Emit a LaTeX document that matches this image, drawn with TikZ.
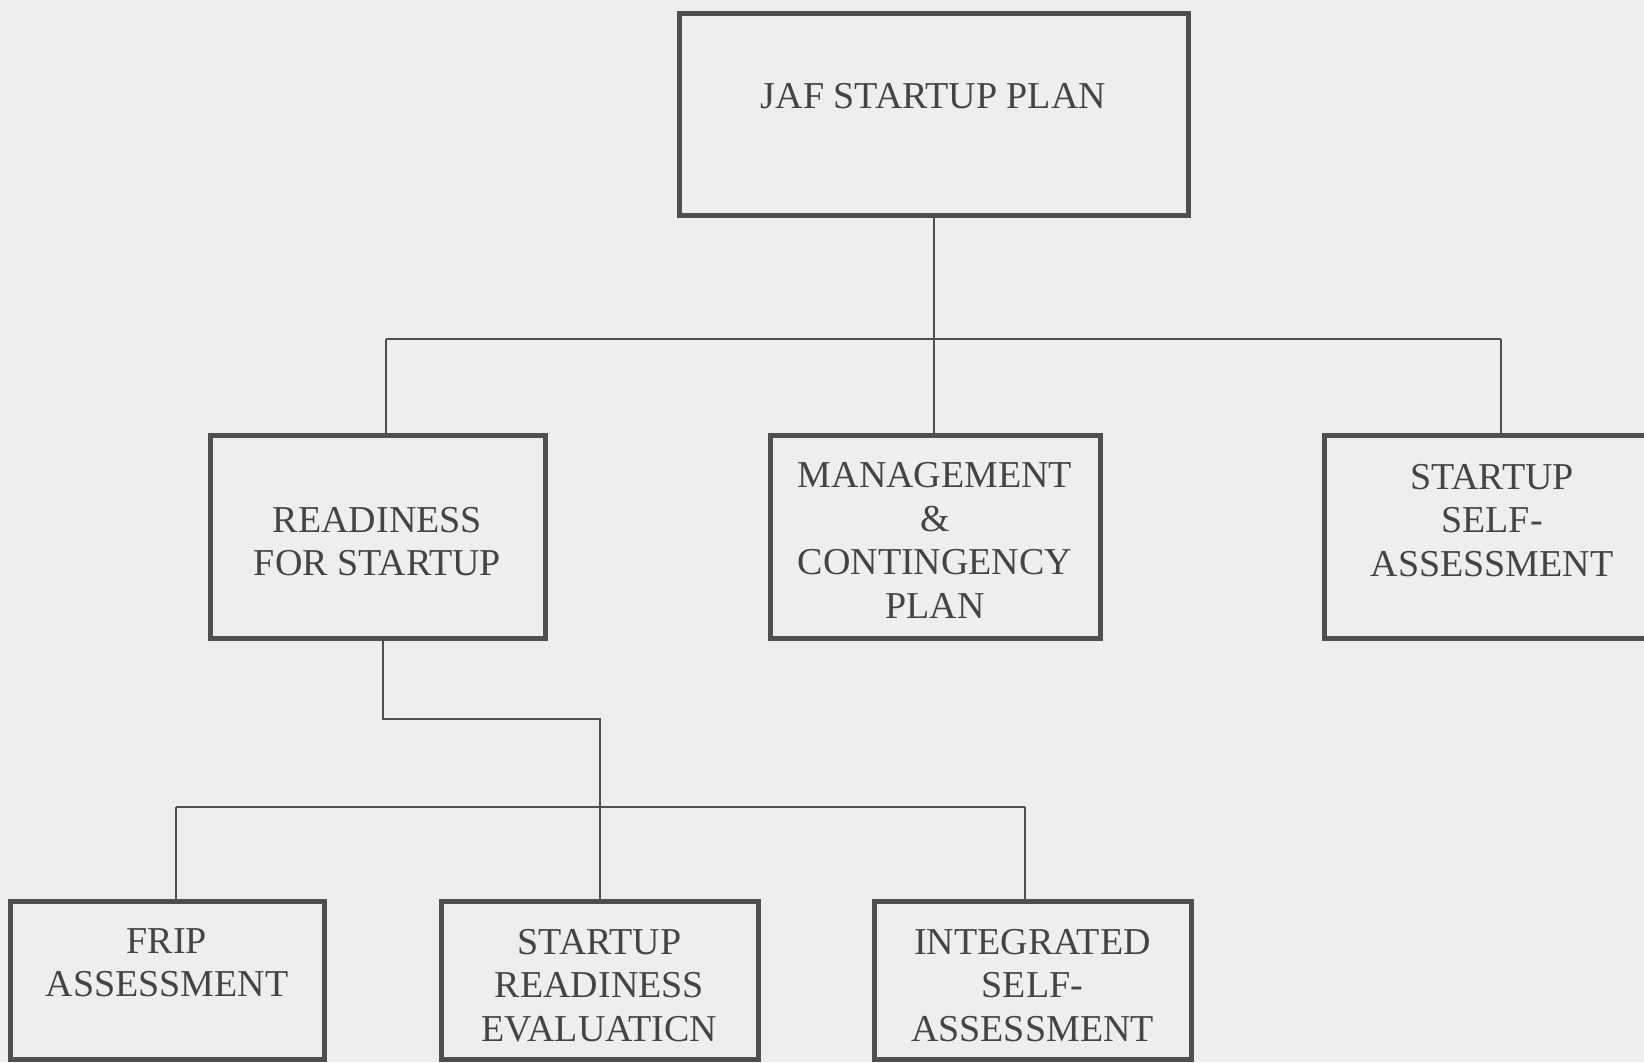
\documentclass[tikz,border=0pt]{standalone}
\usepackage{fontspec}
\setmainfont{Liberation Serif}
\usepackage{tikz}

\definecolor{paper}{HTML}{EEEEEE}
\definecolor{ink}{HTML}{4F4F4F}
\definecolor{lettering}{HTML}{444444}

\begin{document}
\begin{tikzpicture}[x=0.5pt, y=-0.5pt,
		box/.style={draw=ink, line width=2.5pt, inner sep=0pt, minimum height=101.5pt},
		lowbox/.style={box, minimum height=79pt},
		txt/.style={align=center, text=lettering, font=\fontsize{19}{21.7}\selectfont},
		link/.style={draw=ink, line width=1pt}]
	\useasboundingbox (0,0) rectangle (1644,1062);
	\clip (0,0) rectangle (1644,1062);
	\fill[paper] (0,0) rectangle (1644,1062);

	\node[box, minimum width=254.5pt, minimum height=101pt] (plan) at (933.5,114)
		[label={[txt, yshift=9pt, name=plan-t]center:JAF STARTUP PLAN}] {};

	\node[box, minimum width=167.5pt] (ready) at (377.5,536.5)
		[label={[txt, yshift=-2.5pt, name=ready-t]center:READINESS\\FOR STARTUP}] {};
	\node[box, minimum width=165pt] (mgmt) at (935,536.5)
		[label={[txt, yshift=-2pt, name=mgmt-t]center:MANAGEMENT\\\&\\CONTINGENCY\\PLAN}] {};
	\node[box, minimum width=168pt] (selfa) at (1492,536.5)
		[label={[txt, yshift=8pt, name=selfa-t]center:STARTUP\\SELF-\\ASSESSMENT}] {};

	\node[lowbox, minimum width=157pt] (frip) at (167,980)
		[label={[txt, yshift=8.5pt, name=frip-t]center:FRIP\\ASSESSMENT}] {};
	\node[lowbox, minimum width=158.5pt] (srev) at (599.5,980.5)
		[label={[txt, yshift=-2.5pt, name=srev-t]center:STARTUP\\READINESS\\EVALUATICN}] {};
	\node[lowbox, minimum width=158.5pt] (intsa) at (1032.5,980.5)
		[label={[txt, yshift=-2.5pt, name=intsa-t]center:INTEGRATED\\SELF-\\ASSESSMENT}] {};

	\coordinate (top-l) at (386,339);
	\coordinate (top-r) at (1501,339);
	\coordinate (drop) at (383,638);
	\coordinate (bend) at (599.5,719);
	\coordinate (low-l) at (176,807);
	\coordinate (low-r) at (1025,807);

	\draw[link] (plan.south) -- (plan.south |- mgmt.north);
	\draw[link] (top-l) -- (top-r);
	\draw[link] (top-l) -- (top-l |- ready.north);
	\draw[link] (top-r) -- (top-r |- selfa.north);

	\draw[link] (drop) |- (bend) -- (srev.north);
	\draw[link] (low-l) -- (low-r);
	\draw[link] (low-l) -- (low-l |- frip.north);
	\draw[link] (low-r) -- (low-r |- intsa.north);
\end{tikzpicture}
\end{document}
